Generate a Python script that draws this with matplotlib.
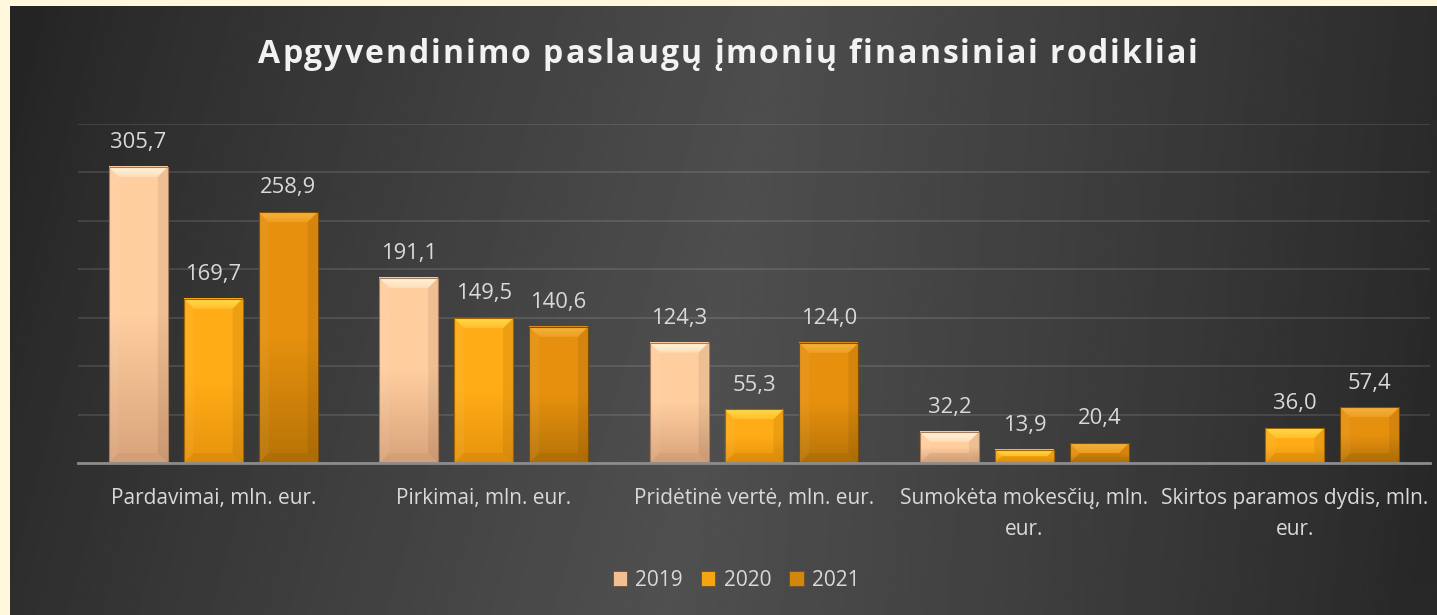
import numpy as np
import matplotlib
matplotlib.use("Agg")
import matplotlib.pyplot as plt
from matplotlib.patches import Polygon, Rectangle
from matplotlib.colors import LinearSegmentedColormap

plt.rcParams['font.family'] = ['Open Sans', 'DejaVu Sans']
plt.rcParams['image.composite_image'] = False

# ---------------- data ----------------
title = "Apgyvendinimo paslaugų įmonių finansiniai rodikliai"
categories = ["Pardavimai, mln. eur.",
              "Pirkimai, mln. eur.",
              "Pridėtinė vertė, mln. eur.",
              "Sumokėta mokesčių, mln.\neur.",
              "Skirtos paramos dydis, mln.\neur."]
years = ["2019", "2020", "2021"]
v2019 = [305.7, 191.1, 124.3, 32.2, np.nan]
v2020 = [169.7, 149.5, 55.3, 13.9, 36.0]
v2021 = [258.9, 140.6, 124.0, 20.4, 57.4]
series = [v2019, v2020, v2021]

# ---------------- styles ----------------
# (face top, face bottom, bevel top, bevel bottom, edge)
styles = [
    ("#FFCE9F", "#D9A47C", "#FFF3DA", "#C9966C", "#A87C5A"),
    ("#FFAC16", "#E8940E", "#FFD948", "#C98000", "#A06400"),
    ("#E6900E", "#B87407", "#F5B23C", "#A06404", "#7E4E00"),
]
legend_colors = ["#F2BE92", "#F5A512", "#D2860C"]

W, H = 1437, 615
fig = plt.figure(figsize=(W / 100, H / 100), dpi=100, facecolor="#FFF8DC")

# background gradient
bgax = fig.add_axes([10 / W, 0, 1 - 10 / W, 1 - 6 / H])
gx = np.linspace(0, 1, 600)
gy = np.linspace(0, 1, 300)
GX, GY = np.meshgrid(gx, gy)
t = np.clip(1 - np.abs(GX - 0.5 + 0.08 * (GY - 0.5)) / 0.52, 0, 1) ** 0.85
val = 37 + 40 * t + 3 * GY
bgax.imshow(val, cmap="gray", vmin=0, vmax=255, aspect="auto",
            extent=[0, 1, 0, 1], interpolation="bilinear")
bgax.axis("off")

# main axes
ax = fig.add_axes([78 / W, 152 / H, (1430 - 78) / W, (463 - 124) / H])
ax.patch.set_alpha(0)
x = np.arange(len(categories))
width = 0.218
step = 0.277

bar_groups = []
for k, vals in enumerate(series):
    bars = ax.bar(x + (k - 1) * step, vals, width, color=styles[k][0], zorder=3)
    bar_groups.append(bars)

ax.set_xlim(-0.5, len(categories) - 0.5)
ax.set_ylim(0, 350)
ax.set_yticks(np.arange(0, 351, 50))
ax.yaxis.grid(True, color="#FFFFFF", alpha=0.11, lw=1.5, zorder=0)
ax.set_axisbelow(True)
for s in ["left", "right", "top"]:
    ax.spines[s].set_visible(False)
ax.spines["bottom"].set_color("#8C8C8C")
ax.spines["bottom"].set_linewidth(2)
ax.spines["bottom"].set_zorder(6)
ax.tick_params(axis="y", length=0, labelleft=False)
ax.tick_params(axis="x", length=0, pad=18, labelsize=15, labelcolor="#D9D9D9")
ax.set_xticks(x)
ax.set_xticklabels(categories, linespacing=1.6)

# bevel decoration drawn from each bar's geometry
inv = ax.transData.inverted()
for k, bars in enumerate(bar_groups):
    ft, fb, bt, bb, ec = styles[k]
    cmap = LinearSegmentedColormap.from_list("f%d" % k, [fb, ft, ft])
    tcmap = LinearSegmentedColormap.from_list("t%d" % k, [ft, bt])
    for p in bars:
        h = p.get_height()
        if not np.isfinite(h) or h <= 0:
            continue
        x0, y0 = ax.transData.transform((p.get_x(), 0))
        x1, y1 = ax.transData.transform((p.get_x() + p.get_width(), h))
        b = min(10.0, (y1 - y0) / 2.0, (x1 - x0) / 2.0)
        ix0, ix1, iy0, iy1 = x0 + b, x1 - b, y0 + b, y1 - b

        def P(pts):
            return inv.transform(np.array(pts))

        # face gradient over the whole bar
        grad = np.linspace(0, 1, 64).reshape(-1, 1)
        ax.imshow(grad, cmap=cmap, aspect="auto", origin="lower",
                  extent=[p.get_x(), p.get_x() + p.get_width(), 0, h], zorder=4,
                  interpolation="bilinear")
        # top bevel (lighter, graded), clipped to its trapezoid
        top = Polygon(P([(x0, y1), (x1, y1), (ix1, iy1), (ix0, iy1)]),
                      closed=True, fc="none", ec="none", zorder=4.1)
        ax.add_patch(top)
        tl = inv.transform((x0, iy1))
        im = ax.imshow(np.linspace(0.35, 1, 32).reshape(-1, 1) ** 0.8, cmap=tcmap,
                       vmin=0, vmax=1, aspect="auto", origin="lower",
                       extent=[p.get_x(), p.get_x() + p.get_width(), tl[1], h],
                       zorder=4.1, interpolation="bilinear")
        im.set_clip_path(top)
        # subtle side bevels
        ax.add_patch(Polygon(P([(x0, y0), (x0, y1), (ix0, iy1), (ix0, iy0)]),
                             closed=True, fc="white", alpha=0.05, ec="none", zorder=4.2))
        ax.add_patch(Polygon(P([(x1, y0), (x1, y1), (ix1, iy1), (ix1, iy0)]),
                             closed=True, fc="black", alpha=0.07, ec="none", zorder=4.2))
        # bottom bevel (darker)
        ax.add_patch(Polygon(P([(x0, y0), (x1, y0), (ix1, iy0), (ix0, iy0)]),
                             closed=True, fc=bb, alpha=0.35, ec="none", zorder=4.2))
        ax.add_patch(Rectangle((p.get_x(), 0), p.get_width(), h, fc="none",
                               ec=ec, lw=0.8, zorder=5))
        ax.annotate(f"{h:.1f}".replace(".", ","), (p.get_x() + p.get_width() / 2, h),
                    xytext=(0, 17.5), textcoords="offset points", ha="center",
                    va="center", fontsize=15.8, color="#D9D9D9", zorder=6)

ax.set_xlim(-0.5, len(categories) - 0.5)
ax.set_ylim(0, 350)

# title with letter spacing, placed character by character
renderer = fig.canvas.get_renderer()
tkw = dict(fontsize=23, weight="bold", color="#F2F2F2")


def tw(s):
    t = fig.text(0, 0, s + "|", **tkw)
    wdt = t.get_window_extent(renderer).width
    t.remove()
    t = fig.text(0, 0, "|", **tkw)
    wdt -= t.get_window_extent(renderer).width
    t.remove()
    return wdt


full = tw(title)
left_px, right_px = 258, 1198
sp = ((right_px - left_px) - full) / (len(title) - 1)
base_y = 1 - 63 / H
for i, ch in enumerate(title):
    if ch == " ":
        continue
    xp = left_px + tw(title[:i]) + i * sp
    fig.text(xp / W, base_y, ch, ha="left", va="baseline", **tkw)

handles = [Rectangle((0, 0), 1, 1, fc=c, ec="#6E5030", lw=0.6) for c in legend_colors]
fig.legend(handles, years, loc="center", bbox_to_anchor=(736 / W, 1 - 580 / H),
           ncol=3, frameon=False, labelcolor="#D9D9D9", fontsize=15,
           handlelength=0.7, handleheight=0.7, handletextpad=0.4,
           columnspacing=0.85)

fig.savefig("out.png", dpi=100, facecolor=fig.get_facecolor())
